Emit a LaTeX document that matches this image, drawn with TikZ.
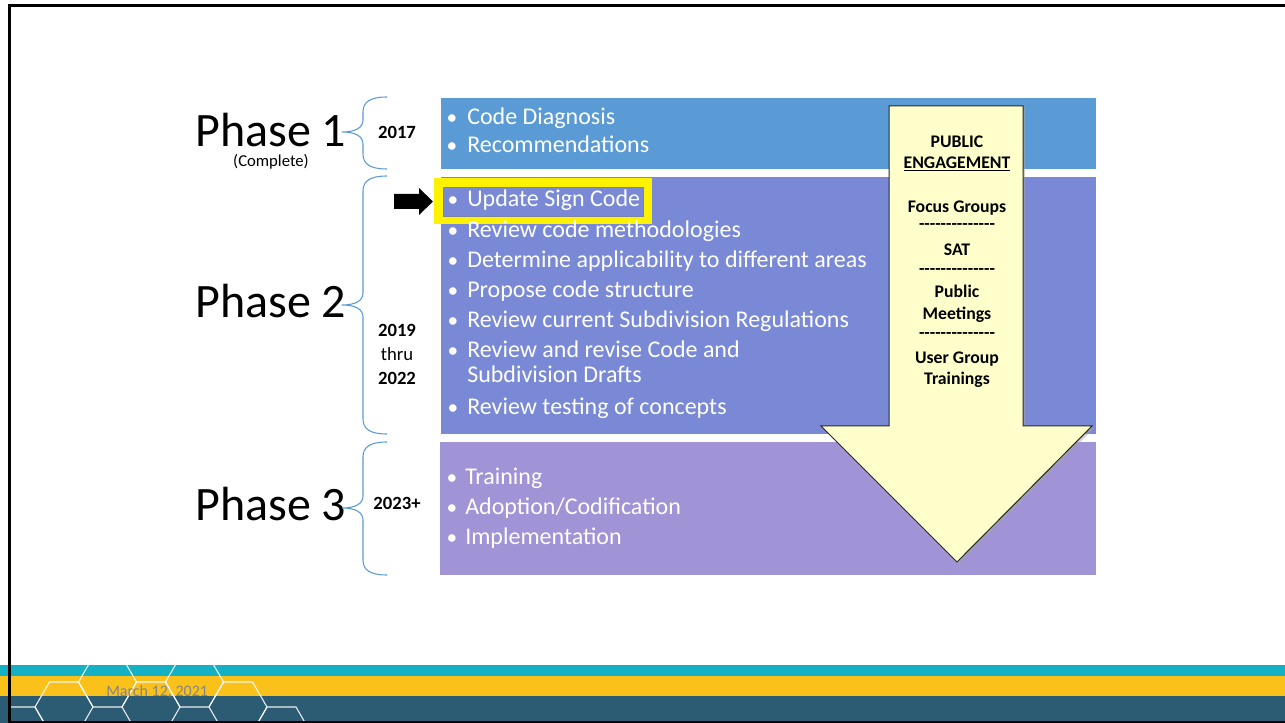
\documentclass[tikz,border=0pt]{standalone}
\usepackage{fontspec}
\setmainfont{Carlito}
% same face without TeX ligatures, so runs of hyphens stay hyphens
\newfontfamily\plainface{Carlito}
\definecolor{phaseA}{HTML}{5B9BD5}
\definecolor{phaseB}{HTML}{7989D5}
\definecolor{phaseC}{HTML}{A094D6}
\definecolor{braceblue}{HTML}{5B9BD5}
\definecolor{engage}{HTML}{FFFFCC}
\definecolor{bandteal}{HTML}{13B1C3}
\definecolor{bandgold}{HTML}{FBC11B}
\definecolor{banddark}{HTML}{2C5B74}
\definecolor{dategray}{HTML}{858585}
% curly brace opening to the right, tip on the left
\newcommand{\phbrace}[3]{% top y, tip y, bottom y
  \draw[bracepath] (387,#1) .. controls (370,#1) and (363,#1+5) .. (363,#1+15)
    -- (363,#2-12) .. controls (363,#2-4) and (355,#2) .. (342,#2)
    .. controls (355,#2) and (363,#2+4) .. (363,#2+12)
    -- (363,#3-15) .. controls (363,#3-5) and (370,#3) .. (387,#3);}
% one cell of the honeycomb in the footer
\newcommand{\hexcell}[2]{%
  \draw[hexline] (#1-14.5,#2-25) -- (#1+14.5,#2-25) -- (#1+29,#2)
    -- (#1+14.5,#2+25) -- (#1-14.5,#2+25) -- (#1-29,#2) -- cycle;}
\begin{document}
\begin{tikzpicture}[x=0.75pt,y=-0.75pt,
  bracepath/.style={draw=braceblue,line width=0.8pt},
  hexline/.style={draw=white,line width=0.8pt,opacity=0.9},
  item/.style={font=\fontsize{18}{21.6}\selectfont,text=white,anchor=base west,inner sep=0pt},
  dot/.style={font=\fontsize{16}{20}\selectfont,text=white,anchor=base,inner sep=0pt},
  phaselabel/.style={font=\fontsize{36}{40}\selectfont,anchor=base west,inner sep=0pt},
  yearlabel/.style={font=\fontsize{14}{16}\selectfont\bfseries,inner sep=0pt},
  engtext/.style={font=\fontsize{13.3}{16}\selectfont\bfseries,anchor=base,inner sep=0pt},
  engrule/.style={font=\plainface\fontsize{13.3}{16}\selectfont\bfseries,anchor=base,inner sep=0pt},
]
\useasboundingbox (0,0) rectangle (1285,723);
\fill[white] (0,0) rectangle (1285,723);

% footer bands
\fill[bandteal] (0,665) rectangle (1285,676);
\fill[bandgold] (0,676) rectangle (1285,696);
\fill[banddark] (0,696) rectangle (1285,723);
\begin{scope}
  \clip (11,665) rectangle (1285,721);
  \hexcell{20.5}{732}
  \hexcell{64}{707}
  \hexcell{107.5}{682}
  \hexcell{151}{707}
  \hexcell{194.5}{682}
  \hexcell{238}{707}
  \hexcell{281.5}{732}
\end{scope}
\node[font=\fontsize{12}{14}\selectfont,text=dategray,anchor=base west,inner sep=0pt] (date) at (106,696) {March 12, 2021};

% slide frame
\draw[black,line width=2.2pt] (1290,5.5) -- (9.5,5.5) -- (9.5,722) -- (1290,722);

% phase boxes
\fill[phaseA] (441,98) rectangle (1096,169);
\fill[phaseB] (441,177) rectangle (1096,434);
\fill[phaseC] (440,442) rectangle (1096,575);

% highlighted item
\fill[yellow] (434,178) rectangle (652,224);
\fill[phaseB] (443,187) rectangle (643,216);
\draw[gray!60!phaseB,line width=0.4pt] (443,187) rectangle (643,216);

% pointer arrow
\fill[black] (394,194) -- (419,194) -- (419,188) -- (433,201.5) -- (419,215) -- (419,209) -- (394,209) -- cycle;

% phase labels and braces
\node[phaselabel] (ph1) at (195,147) {Phase 1};
\node[font=\fontsize{12.5}{14}\selectfont,inner sep=0pt,anchor=base] (ph1note) at (271,167) {(Complete)};
\node[phaselabel] (ph2) at (195,318) {Phase 2};
\node[phaselabel] (ph3) at (195,520) {Phase 3};
\phbrace{97}{132}{169}
\phbrace{176}{305}{434}
\phbrace{442}{508}{575}
\node[yearlabel] (y1) at (397,132) {2017};
\node[yearlabel] (y2a) at (397,330) {2019};
\node[font=\fontsize{14}{16}\selectfont,inner sep=0pt] (y2b) at (397,354) {thru};
\node[yearlabel] (y2c) at (397,378) {2022};
\node[yearlabel] (y3) at (397,503) {2023+};

% items of phase 1
\node[dot] (d11) at (452,125) {•};
\node[item] (i11) at (467,125) {Code Diagnosis};
\node[dot] (d12) at (452,153) {•};
\node[item] (i12) at (467,153) {Recommendations};

% items of phase 2
\node[dot] (d21) at (453,207) {•};
\node[item] (i21) at (467,207) {Update Sign Code};
\node[dot] (d22) at (453,238) {•};
\node[item] (i22) at (467,238) {Review code methodologies};
\node[dot] (d23) at (453,268) {•};
\node[item] (i23) at (467,268) {Determine applicability to different areas};
\node[dot] (d24) at (453,298) {•};
\node[item] (i24) at (467,298) {Propose code structure};
\node[dot] (d25) at (453,328) {•};
\node[item] (i25) at (467,328) {Review current Subdivision Regulations};
\node[dot] (d26) at (453,358) {•};
\node[item] (i26) at (467,358) {Review and revise Code and};
\node[item] (i26b) at (467,383) {Subdivision Drafts};
\node[dot] (d27) at (453,415) {•};
\node[item] (i27) at (467,415) {Review testing of concepts};

% items of phase 3
\node[dot] (d31) at (452,484) {•};
\node[item] (i31) at (465,484) {Training};
\node[dot] (d32) at (452,514) {•};
\node[item] (i32) at (465,514) {Adoption/Codification};
\node[dot] (d33) at (452,544) {•};
\node[item] (i33) at (465,544) {Implementation};

% public engagement arrow
\fill[black!35,opacity=0.5] (891,108) -- (1025,108) -- (1025,428) -- (1094,428) -- (959,564) -- (823,428) -- (891,428) -- cycle;
\draw[fill=engage,draw=black!85,line width=0.75pt] (889,106) -- (1023,106) -- (1023,426) -- (1092,426) -- (957,562) -- (821,426) -- (889,426) -- cycle;
\node[engtext] (e1) at (957,147.5) {PUBLIC};
\node[engtext] (e2) at (957,168.5) {\underline{ENGAGEMENT}};
\node[engtext] (e3) at (957,213) {Focus Groups};
\node[engrule] (e4) at (957,230) {--------------};
\node[engtext] (e5) at (957,256) {SAT};
\node[engrule] (e6) at (957,275) {--------------};
\node[engtext] (e7) at (957,298) {Public};
\node[engtext] (e8) at (957,320) {Meetings};
\node[engrule] (e9) at (957,339) {--------------};
\node[engtext] (e10) at (957,364) {User Group};
\node[engtext] (e11) at (957,385) {Trainings};
\end{tikzpicture}
\end{document}
